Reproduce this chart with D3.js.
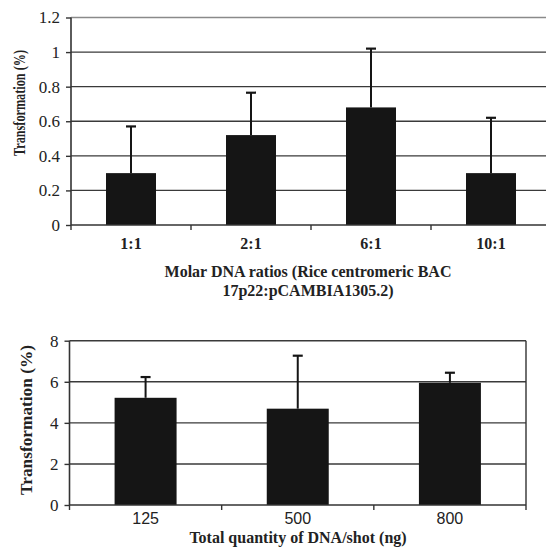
<!DOCTYPE html>
<html>
<head>
    <meta charset="utf-8">
    <script src="https://cdn.jsdelivr.net/npm/d3@7"></script>
    <style>
        body { margin: 0; background: #fff; }
    </style>
</head>
<body>
    <svg width="546" height="550"></svg>
<script>
    // top panel: molar ratios
    var ratioCats = ["1:1", "2:1", "6:1", "10:1"];
    var ratioVals = [0.30, 0.52, 0.68, 0.30];
    var ratioErr = [0.27, 0.245, 0.34, 0.32];
    var ratioTicks = [0, 0.2, 0.4, 0.6, 0.8, 1, 1.2];

    // bottom panel: total DNA quantity
    var qtyCats = ["125", "500", "800"];
    var qtyVals = [5.22, 4.69, 5.95];
    var qtyErr = [1.01, 2.58, 0.49];
    var qtyTicks = [0, 2, 4, 6, 8];

    var svg = d3.select("svg");
    var serif = "'Liberation Serif', 'Times New Roman', serif";
    var sans = "'Liberation Sans', Arial, sans-serif";

    function panel(o) {
        var g = svg.append("g");
        var x = d3.scaleBand().domain(o.cats).range([o.left, o.right]).paddingInner(0).paddingOuter(0);
        var y = d3.scaleLinear().domain([0, o.max]).range([o.bottom, o.top]);

        // gridlines
        g.selectAll(".grid").data(o.ticks.filter(function (t) { return t > 0; }))
            .enter().append("line")
            .attr("x1", o.left).attr("x2", o.gridEnd)
            .attr("y1", function (d) { return y(d); }).attr("y2", function (d) { return y(d); })
            .attr("stroke", function (d) { return d === o.max && o.lightTop ? "#8a8a8a" : "#3a3a3a"; })
            .attr("stroke-width", 1.4);

        if (o.box) {
            g.append("line").attr("x1", o.right).attr("x2", o.right)
                .attr("y1", o.top).attr("y2", o.bottom)
                .attr("stroke", "#333").attr("stroke-width", 1.4);
        }

        // bars
        var bw = x.bandwidth() * o.barFrac;
        g.selectAll(".bar").data(o.vals).enter().append("rect")
            .attr("x", function (d, i) { return x(o.cats[i]) + (x.bandwidth() - bw) / 2; })
            .attr("y", function (d) { return y(d); })
            .attr("width", bw)
            .attr("height", function (d) { return o.bottom - y(d); })
            .attr("fill", "#151515");

        // error bars (upper only)
        g.selectAll(".err").data(o.vals).enter().append("line")
            .attr("x1", function (d, i) { return x(o.cats[i]) + x.bandwidth() / 2; })
            .attr("x2", function (d, i) { return x(o.cats[i]) + x.bandwidth() / 2; })
            .attr("y1", function (d) { return y(d); })
            .attr("y2", function (d, i) { return y(d + o.errs[i]); })
            .attr("stroke", "#151515").attr("stroke-width", 2);
        g.selectAll(".cap").data(o.vals).enter().append("line")
            .attr("x1", function (d, i) { return x(o.cats[i]) + x.bandwidth() / 2 - 5; })
            .attr("x2", function (d, i) { return x(o.cats[i]) + x.bandwidth() / 2 + 5; })
            .attr("y1", function (d, i) { return y(d + o.errs[i]); })
            .attr("y2", function (d, i) { return y(d + o.errs[i]); })
            .attr("stroke", "#151515").attr("stroke-width", 2.2);

        // y axis
        var ya = g.append("g").attr("transform", "translate(" + o.left + ",0)")
            .call(d3.axisLeft(y).tickValues(o.ticks).tickSize(5).tickPadding(6).tickFormat(function (d) { return String(d); }));
        ya.select(".domain").attr("stroke", "#333").attr("stroke-width", 1.6).attr("d", "M0," + o.top + "V" + o.bottom);
        ya.selectAll(".tick line").attr("stroke", "#333").attr("stroke-width", 1.4);
        ya.selectAll("text").attr("font-family", serif).attr("font-size", 17).attr("fill", "#222");

        // x axis
        var xa = g.append("g").attr("transform", "translate(0," + o.bottom + ")")
            .call(d3.axisBottom(x).tickSize(0).tickPadding(o.xPad));
        xa.select(".domain").attr("stroke", "#333").attr("stroke-width", 1.6).attr("d", "M" + o.left + ",0H" + o.gridEnd);
        xa.selectAll("text").attr("font-family", o.xFont).attr("font-weight", o.xBold ? "bold" : "normal")
            .attr("font-size", 16).attr("fill", "#222");
        // ticks between categories
        var bounds = o.cats.map(function (c) { return x(c); }).concat([o.right]);
        g.selectAll(".xt").data(bounds).enter().append("line")
            .attr("x1", function (d) { return d; }).attr("x2", function (d) { return d; })
            .attr("y1", o.bottom).attr("y2", o.bottom + 5)
            .attr("stroke", "#333").attr("stroke-width", 1.4);

        // y label
        g.append("text")
            .attr("transform", "translate(" + o.ylx + "," + o.yly + ") rotate(-90)")
            .attr("text-anchor", "middle")
            .attr("font-family", serif).attr("font-weight", "bold").attr("font-size", 17)
            .attr("textLength", o.ylLen).attr("lengthAdjust", "spacingAndGlyphs")
            .attr("fill", "#222")
            .text("Transformation (%)");

        // x title
        o.title.forEach(function (t, i) {
            g.append("text")
                .attr("x", o.tx).attr("y", o.ty + i * 19)
                .attr("text-anchor", "middle")
                .attr("font-family", serif).attr("font-weight", "bold").attr("font-size", 16)
                .attr("fill", "#222")
                .text(t);
        });
    }

    panel({
        cats: ratioCats, vals: ratioVals, errs: ratioErr, ticks: ratioTicks, max: 1.2,
        left: 71, right: 551, gridEnd: 546, top: 17.5, bottom: 225,
        barFrac: 50 / 120, lightTop: true, box: false,
        xFont: serif, xBold: true, xPad: 13,
        ylx: 25, yly: 103, ylLen: 106,
        title: ["Molar DNA ratios (Rice centromeric BAC", "17p22:pCAMBIA1305.2)"], tx: 308, ty: 277
    });

    panel({
        cats: qtyCats, vals: qtyVals, errs: qtyErr, ticks: qtyTicks, max: 8,
        left: 69.5, right: 526, gridEnd: 526, top: 340.7, bottom: 505,
        barFrac: 62 / 152.2, lightTop: false, box: true,
        xFont: sans, xBold: false, xPad: 8,
        ylx: 32, yly: 420, ylLen: 150,
        title: ["Total quantity of DNA/shot (ng)"], tx: 298, ty: 543
    });
</script>
</body>
</html>
